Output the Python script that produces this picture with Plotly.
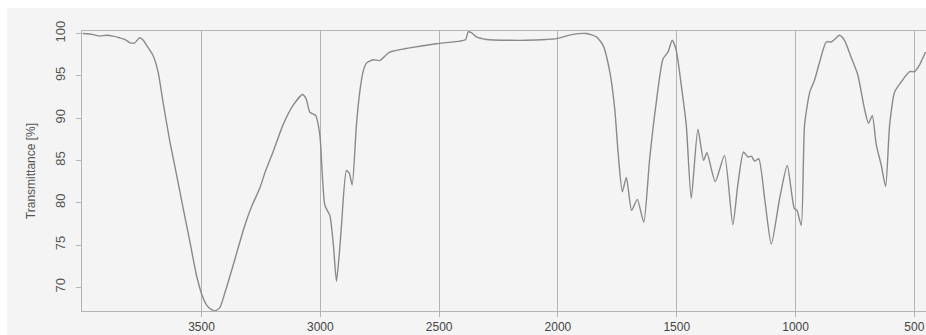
import plotly.graph_objects as go

# Wavenumber (cm-1) and transmittance (%)
wavenumber = [4000, 3960, 3928, 3900, 3872, 3845, 3823, 3800, 3781, 3760, 3745, 3731,
              3704, 3683, 3662, 3633, 3605, 3577, 3549, 3521, 3493, 3470, 3445, 3423,
              3400, 3367, 3318, 3290, 3255, 3230, 3199, 3157, 3115, 3075, 3060, 3044,
              3019, 3002, 2981, 2960, 2945, 2932, 2920, 2911, 2890, 2878, 2866, 2848,
              2834, 2820, 2806, 2778, 2750, 2708, 2624, 2512, 2413, 2388, 2378, 2364,
              2343, 2301, 2200, 2133, 2050, 2006, 1937, 1880, 1838, 1810, 1782, 1761,
              1747, 1729, 1712, 1690, 1666, 1639, 1614, 1586, 1558, 1537, 1519, 1502,
              1481, 1460, 1439, 1411, 1387, 1373, 1338, 1299, 1264, 1243, 1219, 1200,
              1186, 1172, 1155, 1130, 1102, 1067, 1035, 1005, 994, 976, 962, 940,
              920, 899, 871, 850, 836, 815, 794, 766, 738, 710, 693, 677,
              660, 639, 621, 604, 583, 555, 520, 499, 478, 453]
transmittance = [100.0, 99.9, 99.7, 99.8, 99.7, 99.5, 99.3, 98.9, 98.9, 99.5, 99.2, 98.6,
                 97.4, 95.5, 91.9, 87.2, 83.3, 79.3, 75.4, 71.4, 68.7, 67.6, 67.2, 67.6,
                 69.5, 72.6, 77.3, 79.5, 81.7, 83.8, 86.0, 89.2, 91.5, 92.8, 92.3, 90.7,
                 90.3, 88.0, 79.7, 78.5, 75.0, 70.7, 74.0, 77.3, 83.8, 83.5, 82.1, 89.2,
                 93.1, 95.5, 96.5, 96.9, 96.8, 97.8, 98.3, 98.8, 99.1, 99.3, 100.2, 100.1,
                 99.6, 99.3, 99.2, 99.2, 99.3, 99.4, 99.9, 100.0, 99.6, 98.6, 95.5, 91.1,
                 86.0, 81.3, 83.0, 79.1, 80.4, 77.7, 85.2, 91.9, 97.0, 97.8, 99.2, 98.0,
                 93.9, 89.2, 80.5, 88.7, 85.0, 85.9, 82.5, 85.6, 77.4, 82.1, 86.0, 85.4,
                 85.5, 84.9, 85.2, 80.5, 75.1, 80.5, 84.4, 79.3, 79.1, 77.3, 89.2, 93.1,
                 94.5, 96.6, 99.0, 99.0, 99.3, 99.8, 99.2, 97.2, 95.1, 91.1, 89.4, 90.3,
                 86.8, 84.4, 81.9, 89.2, 93.1, 94.3, 95.5, 95.5, 96.3, 97.8]

x_ticks = [3500, 3000, 2500, 2000, 1500, 1000, 500]
y_ticks = [70, 75, 80, 85, 90, 95, 100]

fig = go.Figure()
fig.add_trace(go.Scatter(
    x=wavenumber, y=transmittance, mode="lines",
    line=dict(color="#8a8a8a", width=1.4, shape="spline", smoothing=0.6),
    showlegend=False, hoverinfo="skip"))

axis_col = "#b4b4b4"
fig.update_layout(
    width=926, height=335,
    margin=dict(l=82, r=0, t=31, b=24),
    paper_bgcolor="#f4f4f4", plot_bgcolor="#f4f4f4",
    font=dict(family="Liberation Sans Narrow, Liberation Sans, Arial", color="#555555"),
    xaxis=dict(range=[4003, 451], tickvals=x_ticks, ticktext=[str(v) for v in x_ticks],
               showgrid=True, gridcolor=axis_col, gridwidth=1, zeroline=False,
               showline=True, linecolor=axis_col, linewidth=1, mirror=True,
               ticks="outside", ticklen=5, tickcolor=axis_col,
               tickfont=dict(size=12, color="#444444", family="Liberation Sans, Arial")),
    yaxis=dict(range=[67.2, 100.3], tickvals=y_ticks, ticktext=[str(v) for v in y_ticks],
               showgrid=False, zeroline=False,
               showline=True, linecolor=axis_col, linewidth=1, mirror=False,
               ticks="outside", ticklen=5, tickcolor=axis_col, tickangle=-90,
               ticklabelstandoff=6,
               tickfont=dict(size=13, color="#555555"),
               title=dict(text="Transmittance [%]", font=dict(size=12, color="#555555"), standoff=14)),
    shapes=[
        dict(type="rect", xref="paper", yref="paper", x0=-0.1, x1=1.01, y0=1.082, y1=1.12,
             fillcolor="white", line=dict(width=0), layer="above"),
        dict(type="rect", xref="paper", yref="paper", x0=-0.1, x1=-0.0889, y0=-0.1, y1=1.12,
             fillcolor="white", line=dict(width=0), layer="above"),
    ],
)

fig.write_html("out.html", config={"displayModeBar": False},
               post_script="document.body.style.margin='0';document.body.style.overflow='hidden';")
